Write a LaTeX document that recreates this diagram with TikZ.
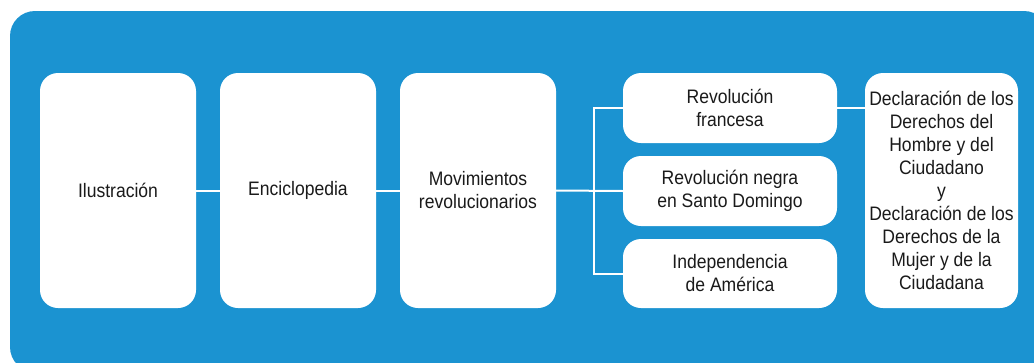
\documentclass[tikz,border=0pt]{standalone}
\usepackage{fontspec}
\setmainfont{Liberation Sans}[FakeStretch=0.9]
\definecolor{bgblue}{HTML}{1B93D1}
\definecolor{txt}{HTML}{1A1A1A}
\begin{document}
\begin{tikzpicture}[x=1pt,y=-1pt,
  box/.style={draw=none,fill=white,rounded corners=18pt,align=center,inner sep=2pt,
    text=txt,font=\fontsize{19.5}{23}\selectfont},
  tall/.style={box,minimum width=156pt,minimum height=235pt},
  wide/.style={box,minimum width=214pt,minimum height=70pt},
  link/.style={draw=white,line width=2pt}]
\useasboundingbox (0,0) rectangle (1034,362);
\clip (0,0) rectangle (1034,362);
\fill[bgblue,rounded corners=25pt] (10,11) rectangle (1049,372);
\node[tall] (il) at (118,190.5) {Ilustración};
\node[tall] (en) at (298,190.5) {Enciclopedia};
\node[tall] (mv) at (478,190.5) {Movimientos\\revolucionarios};
\node[wide] (rf) at (730,108) {Revolución\\francesa};
\node[wide] (rn) at (730,191) {Revolución negra\\en Santo Domingo};
\node[wide,minimum height=69pt] (ia) at (730,273.5) {Independencia\\de América};
\node[tall,minimum width=153pt] (dc) at (941.5,190.5) {Declaración de los\\Derechos del\\Hombre y del\\Ciudadano\\y\\Declaración de los\\Derechos de la\\Mujer y de la\\Ciudadana};
\coordinate (br) at (594,191);
\draw[link] (il.east) -- (en.west);
\draw[link] (en.east) -- (mv.west);
\draw[link] (mv.east) -- (rn.west);
\draw[link] (rf.west) -| (br) |- (ia.west);
\draw[link] (rf.east) -- (dc.west |- rf.east);
\end{tikzpicture}
\end{document}
